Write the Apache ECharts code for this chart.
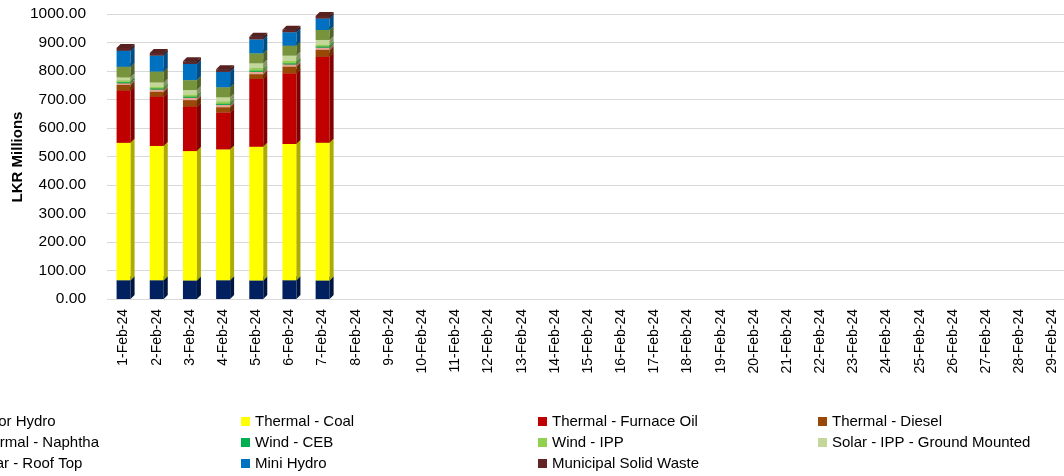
<!DOCTYPE html>
<html>
<head>
<meta charset="utf-8">
<script src="https://cdn.jsdelivr.net/npm/echarts@6/dist/echarts.min.js"></script>
<style>
html,body{margin:0;padding:0;background:#fff;}
#chart{width:1064px;height:476px;}
</style>
</head>
<body>
<div id="chart"></div>
<script>
var categories = [];
for (var d = 1; d <= 29; d++) categories.push(d + '-Feb-24');

var majorHydro   = [66, 66, 65, 66, 65, 66, 65];
var thermalCoal  = [482, 471, 454, 459, 469, 478, 483];
var furnaceOil   = [183, 173, 156, 129, 238, 248, 302];
var diesel       = [20, 17, 23, 19, 17, 23, 24];
var naphtha      = [6, 8, 8, 8, 8, 8, 8];
var windCEB      = [4, 4, 4, 4, 4, 4, 4];
var windIPP      = [5, 5, 6, 7, 8, 8, 5];
var solarGround  = [12, 16, 17, 16, 18, 19, 18];
var solarRoof    = [37, 38, 35, 35, 35, 35, 35];
var miniHydro    = [56, 56, 57, 54, 49, 47, 40];
var msw          = [10, 9, 9, 9, 9, 9, 9];

var yTicks = [0, 100, 200, 300, 400, 500, 600, 700, 800, 900, 1000];
var yTitle = 'LKR Millions';

var seriesDefs = [
  ['Major Hydro', majorHydro, '#002060'],
  ['Thermal - Coal', thermalCoal, '#FFFF00'],
  ['Thermal - Furnace Oil', furnaceOil, '#C00000'],
  ['Thermal - Diesel', diesel, '#984807'],
  ['Thermal - Naphtha', naphtha, '#E6A595'],
  ['Wind - CEB', windCEB, '#00B050'],
  ['Wind - IPP', windIPP, '#92D050'],
  ['Solar - IPP - Ground Mounted', solarGround, '#C4D79B'],
  ['Solar - Roof Top', solarRoof, '#77933C'],
  ['Mini Hydro', miniHydro, '#0070C0'],
  ['Municipal Solid Waste', msw, '#632523']
];

function shade(hex, f) {
  var n = parseInt(hex.slice(1), 16);
  var r = Math.round(((n >> 16) & 255) * f), g = Math.round(((n >> 8) & 255) * f), b = Math.round((n & 255) * f);
  return 'rgb(' + r + ',' + g + ',' + b + ')';
}

var cum = categories.map(function () { return 0; });
var series = seriesDefs.map(function (s) {
  var color = s[2];
  var side = shade(color, 0.68);
  var top = shade(color, 0.88);
  var data = [];
  s[1].forEach(function (v, i) {
    data.push([i, cum[i], cum[i] + v]);
    cum[i] += v;
  });
  return {
    name: s[0], type: 'custom', data: data,
    itemStyle: { color: color },
    encode: { x: 0, y: [1, 2] },
    emphasis: { disabled: true },
    renderItem: function (params, api) {
      var x = api.value(0);
      var p0 = api.coord([x, api.value(1)]);
      var p1 = api.coord([x, api.value(2)]);
      var w = 14, dx = 4, dy = 4;
      var l = p0[0] - 7, r = l + w;
      return {
        type: 'group',
        children: [
          { type: 'rect', shape: { x: l, y: p1[1], width: w, height: p0[1] - p1[1] }, style: { fill: color } },
          { type: 'polygon', shape: { points: [[r, p1[1]], [r + dx, p1[1] - dy], [r + dx, p0[1] - dy], [r, p0[1]]] }, style: { fill: side } },
          { type: 'polygon', shape: { points: [[l, p1[1]], [l + dx, p1[1] - dy], [r + dx, p1[1] - dy], [r, p1[1]]] }, style: { fill: top } }
        ]
      };
    }
  };
});

var font = 'Liberation Sans';
function legendCol(names, left) {
  return {
    orient: 'vertical', left: left, top: 414, height: 62, padding: 0,
    itemWidth: 9, itemHeight: 9, itemGap: 6,
    icon: 'rect', data: names, selectedMode: false,
    textStyle: { fontFamily: font, fontSize: 15, lineHeight: 15, color: '#000' }
  };
}

var option = {
  animation: false,
  textStyle: { fontFamily: font },
  graphic: [{
    type: 'text', x: 18, y: 157, rotation: Math.PI / 2,
    style: { text: yTitle, fontFamily: font, fontSize: 15, fontWeight: 'bold', fill: '#000', align: 'center', verticalAlign: 'middle' }
  }],
  legend: [
    legendCol(['Major Hydro', 'Thermal - Naphtha', 'Solar - Roof Top'], -40),
    legendCol(['Thermal - Coal', 'Wind - CEB', 'Mini Hydro'], 241),
    legendCol(['Thermal - Furnace Oil', 'Wind - IPP', 'Municipal Solid Waste'], 538),
    legendCol(['Thermal - Diesel', 'Solar - IPP - Ground Mounted'], 818)
  ],
  grid: { left: 107, width: 962, top: 14, height: 285, outerBoundsMode: 'none', containLabel: false },
  xAxis: {
    type: 'category', data: categories,
    axisLine: { show: false }, axisTick: { show: false },
    axisLabel: { rotate: 90, interval: 0, fontFamily: font, fontSize: 14, color: '#000', margin: 10 }
  },
  yAxis: {
    type: 'value', min: yTicks[0], max: yTicks[yTicks.length - 1], interval: 100,
    axisLine: { show: false }, axisTick: { show: false },
    axisLabel: { formatter: function (v) { return v.toFixed(2); }, fontFamily: font, fontSize: 15.5, color: '#000', margin: 21 },
    splitLine: { lineStyle: { color: '#D9D9D9', width: 1 } }
  },
  series: series
};

var chart = echarts.init(document.getElementById('chart'));
chart.setOption(option);
</script>
</body>
</html>
